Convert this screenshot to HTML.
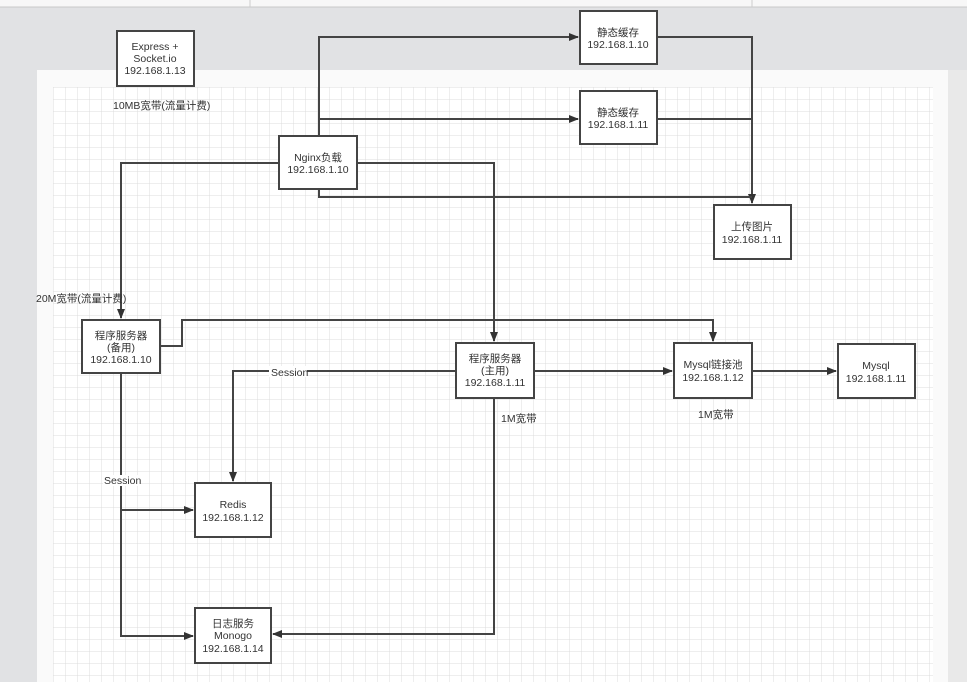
<!DOCTYPE html>
<html><head><meta charset="utf-8">
<style>
html,body{margin:0;padding:0;width:967px;height:682px;overflow:hidden;background:#e1e2e4;}
svg{display:block}
text{font-family:"Liberation Sans","Noto Sans CJK SC",sans-serif;font-size:10.5px;fill:#333;}
</style></head><body>
<svg width="967" height="682" viewBox="0 0 967 682">
<defs>
<pattern id="g" width="12" height="12" patternUnits="userSpaceOnUse" x="53" y="87">
<path d="M12 0H0V12" fill="none" stroke="#dcdcdc" stroke-width="1"/>
</pattern>
<marker id="a" markerWidth="10" markerHeight="10" refX="9" refY="5" orient="auto" markerUnits="userSpaceOnUse">
<path d="M0 1 L10 5 L0 9 Z" fill="#333"/>
</marker>
</defs>
<rect x="0" y="0" width="967" height="7" fill="#f7f7f7"/>
<line x1="0" y1="7" x2="967" y2="7" stroke="#c8c8c8"/>
<line x1="250" y1="0" x2="250" y2="7" stroke="#ccc"/>
<line x1="752" y1="0" x2="752" y2="7" stroke="#ccc"/>
<rect x="37" y="70" width="911" height="612" fill="#fafafa"/>
<rect x="53" y="87" width="880" height="595" fill="#fff"/>
<rect x="53" y="87" width="880" height="595" fill="url(#g)"/>
<rect x="948" y="70" width="19" height="612" fill="#e9e9e9"/>

<g fill="none" stroke="#444" stroke-width="2">
<polyline points="319,136 319,37 578,37" marker-end="url(#a)"/>
<polyline points="319,119 578,119" marker-end="url(#a)"/>
<polyline points="657,37 752,37 752,203" marker-end="url(#a)"/>
<polyline points="657,119 752,119"/>
<polyline points="319,189 319,197 752,197"/>
<polyline points="279,163 121,163 121,318" marker-end="url(#a)"/>
<polyline points="357,163 494,163 494,341" marker-end="url(#a)"/>
<polyline points="160,346 182,346 182,320 713,320 713,341" marker-end="url(#a)"/>
<polyline points="534,371 672,371" marker-end="url(#a)"/>
<polyline points="752,371 836,371" marker-end="url(#a)"/>
<polyline points="456,371 233,371 233,481" marker-end="url(#a)"/>
<polyline points="121,373 121,636 193,636" marker-end="url(#a)"/>
<polyline points="121,510 193,510" marker-end="url(#a)"/>
<polyline points="494,398 494,634 273,634" marker-end="url(#a)"/>
</g>

<g fill="#fff" stroke="#444" stroke-width="2">
<rect x="117" y="31" width="77" height="55"/>
<rect x="279" y="136" width="78" height="53"/>
<rect x="580" y="11" width="77" height="53"/>
<rect x="580" y="91" width="77" height="53"/>
<rect x="714" y="205" width="77" height="54"/>
<rect x="82" y="320" width="78" height="53"/>
<rect x="456" y="343" width="78" height="55"/>
<rect x="674" y="343" width="78" height="55"/>
<rect x="838" y="344" width="77" height="54"/>
<rect x="195" y="483" width="76" height="54"/>
<rect x="195" y="608" width="76" height="55"/>
</g>

<g text-anchor="middle">
<text x="155" y="50">Express +</text><text x="155" y="62">Socket.io</text><text x="155" y="74">192.168.1.13</text>
<text x="318" y="161">Nginx负载</text><text x="318" y="173">192.168.1.10</text>
<text x="618" y="36">静态缓存</text><text x="618" y="48">192.168.1.10</text>
<text x="618" y="116">静态缓存</text><text x="618" y="128">192.168.1.11</text>
<text x="752" y="230">上传图片</text><text x="752" y="243">192.168.1.11</text>
<text x="121" y="339">程序服务器</text><text x="121" y="351">(备用)</text><text x="121" y="363">192.168.1.10</text>
<text x="495" y="362">程序服务器</text><text x="495" y="374">(主用)</text><text x="495" y="386">192.168.1.11</text>
<text x="713" y="368">Mysql链接池</text><text x="713" y="381">192.168.1.12</text>
<text x="876" y="369">Mysql</text><text x="876" y="382">192.168.1.11</text>
<text x="233" y="508">Redis</text><text x="233" y="521">192.168.1.12</text>
<text x="233" y="627">日志服务</text><text x="233" y="639">Monogo</text><text x="233" y="652">192.168.1.14</text>
</g>
<rect x="269" y="366" width="38" height="11" fill="#fff"/>
<text x="271" y="376">Session</text>
<rect x="103" y="475" width="38" height="11" fill="#fff"/>
<text x="104" y="484">Session</text>
<text x="113" y="109">10MB宽带(流量计费)</text>
<text x="36" y="302">20M宽带(流量计费)</text>
<text x="501" y="422">1M宽带</text>
<text x="698" y="418">1M宽带</text>
</svg>
</body></html>
